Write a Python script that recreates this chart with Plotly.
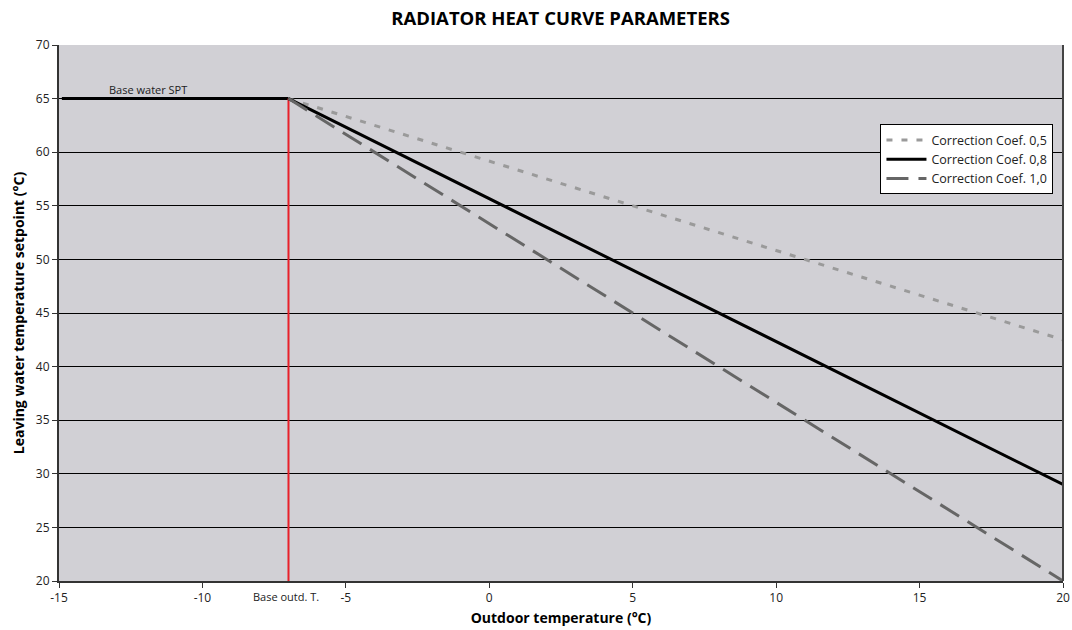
import plotly.graph_objects as go

# Heat curve parameters
base_outdoor_t = -7
base_water_spt = 65
x_min, x_max = -15, 20
coef_labels = ["Correction Coef. 0,5", "Correction Coef. 0,8", "Correction Coef. 1,0"]
end_values = [42.5, 29, 20]  # setpoint at 20 °C outdoor
line_colors = ["#9a9a9a", "#000000", "#666666"]
line_dashes = ["6px,9px", "solid", "22px,10px"]
line_widths = [3, 3, 3]

x_ticks = [-15, -10, -5, 0, 5, 10, 15, 20]
x_tick_text = ["-15", "-10", "-5", "0", "5", "10", "15", "20"]
y_ticks = [20, 25, 30, 35, 40, 45, 50, 55, 60, 65, 70]

fig = go.Figure()

# flat part of the curve below the base outdoor temperature
fig.add_trace(go.Scatter(
    x=[x_min + 0.1, base_outdoor_t], y=[base_water_spt, base_water_spt],
    mode="lines", line=dict(color="#000000", width=3), showlegend=False,
    hoverinfo="skip"))

# red marker at base outdoor temperature
fig.add_trace(go.Scatter(
    x=[base_outdoor_t, base_outdoor_t], y=[y_ticks[0], base_water_spt],
    mode="lines", line=dict(color="#e8202a", width=2), showlegend=False,
    hoverinfo="skip"))

for name, end, col, dash, w in zip(coef_labels, end_values, line_colors, line_dashes, line_widths):
    fig.add_trace(go.Scatter(
        x=[base_outdoor_t, x_max], y=[base_water_spt, end],
        mode="lines", name=name,
        line=dict(color=col, dash=dash, width=w)))

font_family = "Open Sans, DejaVu Sans, sans-serif"

fig.add_annotation(x=-11.9, y=base_water_spt, text="Base water SPT", showarrow=False,
                   yanchor="bottom", yshift=0, font=dict(size=11, color="#222"))
fig.add_annotation(x=base_outdoor_t - 0.1, y=0, yref="paper", text="Base outd. T.",
                   showarrow=False, yanchor="top", yshift=-6, font=dict(size=11, color="#222"))

fig.update_layout(
    width=1072, height=630,
    margin=dict(l=59, r=9, t=45, b=49, autoexpand=False),
    paper_bgcolor="white", plot_bgcolor="#d1d0d5",
    font=dict(family=font_family, size=12, color="#222"),
    title=dict(text="<b>RADIATOR HEAT CURVE PARAMETERS</b>", x=0.523, xanchor="center",
               y=0.97, yanchor="middle", font=dict(size=18.5, color="#000")),
    legend=dict(x=0.9905, y=0.852, xanchor="right", yanchor="top",
                bgcolor="white", bordercolor="#000", borderwidth=1,
                font=dict(size=12.5, color="#222"), tracegroupgap=0,
                itemwidth=40),
    showlegend=True,
)

fig.update_xaxes(
    range=[x_min, x_max], tickvals=x_ticks, ticktext=x_tick_text, showgrid=False, zeroline=False,
    showline=True, linecolor="#333", linewidth=2, mirror=False, automargin=False,
    ticks="outside", ticklen=5, tickcolor="#333",
    tickfont=dict(size=12, color="#222"),
    title=dict(text="<b>Outdoor temperature (°C)</b>", font=dict(size=14, color="#000"), standoff=8),
)
fig.update_yaxes(
    range=[20, 70], tickvals=y_ticks, showgrid=True, gridcolor="#000", gridwidth=1,
    zeroline=False, showline=True, linecolor="#333", linewidth=2, mirror=False, automargin=False,
    ticks="outside", ticklen=5, tickcolor="#333",
    tickfont=dict(size=12, color="#222"),
    title=dict(text="<b>Leaving water temperature setpoint (°C)</b>", font=dict(size=14, color="#000"), standoff=8),
)

# right border of the plot area
fig.add_shape(type="line", xref="paper", yref="paper", x0=1, x1=1, y0=0, y1=1,
              line=dict(color="#444", width=2))

fig.write_html("out.html")
